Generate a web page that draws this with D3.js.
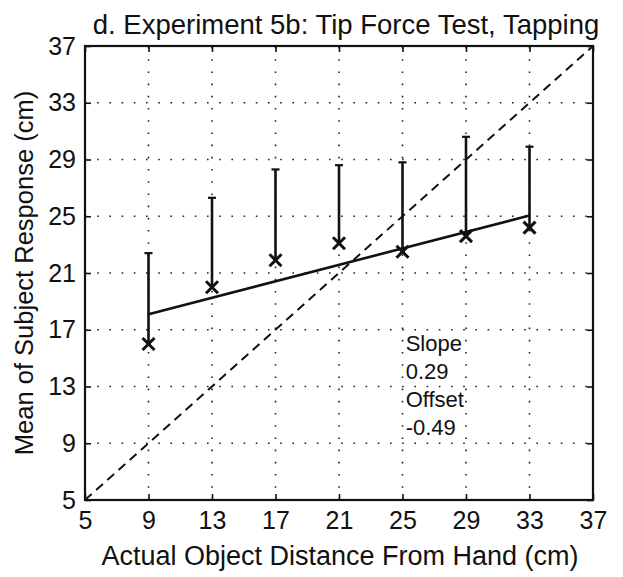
<!DOCTYPE html>
<html>
<head>
<meta charset="utf-8">
<script src="https://cdn.jsdelivr.net/npm/d3@7"></script>
<style>
html,body{margin:0;padding:0;background:#fff;}
svg{display:block;}
text{font-family:"Liberation Sans",Arial,Helvetica,sans-serif;fill:#111;}
</style>
</head>
<body>
<svg id="chart" width="623" height="577"></svg>
<script>
// ---- data ----
const distances = [9, 13, 17, 21, 25, 29, 33];
const meanResponse = [16.0, 20.0, 21.9, 23.1, 22.5, 23.6, 24.2];
const errorTop = [22.4, 26.3, 28.3, 28.6, 28.8, 30.6, 29.9];
const fitX = [9, 33];
const fitY = [18.1, 25.05];
const unityLine = [5, 37];
const tickValues = [5, 9, 13, 17, 21, 25, 29, 33, 37];
const gridValues = [9, 13, 17, 21, 25, 29, 33];
const annotationLines = ["Slope", "0.29", "Offset", "-0.49"];
const titleText = "d. Experiment 5b: Tip Force Test, Tapping";
const xLabel = "Actual Object Distance From Hand (cm)";
const yLabel = "Mean of Subject Response (cm)";

// ---- layout ----
const L = 85, R = 593, T = 46, B = 500;
const svg = d3.select("#chart");
const x = d3.scaleLinear().domain([5, 37]).range([L, R]);
const y = d3.scaleLinear().domain([5, 37]).range([B, T]);

// grid (dotted)
const grid = svg.append("g").attr("stroke", "#222").attr("stroke-width", 1.6)
  .attr("stroke-dasharray", "1.6,10.6");
grid.selectAll(".gx").data(gridValues).join("line")
  .attr("x1", d => x(d)).attr("x2", d => x(d)).attr("y1", B).attr("y2", T);
grid.selectAll(".gy").data(gridValues).join("line")
  .attr("y1", d => y(d)).attr("y2", d => y(d)).attr("x1", L).attr("x2", R);

// axes with inward ticks
const fmt = d3.format("d");
const axB = svg.append("g").attr("transform", `translate(0,${B})`)
  .call(d3.axisBottom(x).tickValues(tickValues).tickFormat(fmt).tickSizeInner(-6).tickSizeOuter(0).tickPadding(11));
const axL = svg.append("g").attr("transform", `translate(${L},0)`)
  .call(d3.axisLeft(y).tickValues(tickValues).tickFormat(fmt).tickSizeInner(-6).tickSizeOuter(0).tickPadding(9));
const axT = svg.append("g").attr("transform", `translate(0,${T})`)
  .call(d3.axisTop(x).tickValues(tickValues).tickFormat("").tickSizeInner(-6).tickSizeOuter(0));
const axR = svg.append("g").attr("transform", `translate(${R},0)`)
  .call(d3.axisRight(y).tickValues(tickValues).tickFormat("").tickSizeInner(-6).tickSizeOuter(0));
[axB, axL, axT, axR].forEach(a => {
  a.select(".domain").remove();
  a.selectAll(".tick line").attr("stroke", "#111").attr("stroke-width", 1.6);
  a.selectAll(".tick text").attr("font-size", 25).attr("fill", "#111")
    .style("font-family", '"Liberation Sans",Arial,sans-serif');
});
axB.selectAll(".tick text").attr("dy", "0.71em");

// box
svg.append("rect").attr("x", L).attr("y", T).attr("width", R - L).attr("height", B - T)
  .attr("fill", "none").attr("stroke", "#111").attr("stroke-width", 2.2);

// unity dashed line
svg.append("line")
  .attr("x1", x(unityLine[0])).attr("y1", y(unityLine[0]))
  .attr("x2", x(unityLine[1])).attr("y2", y(unityLine[1]))
  .attr("stroke", "#111").attr("stroke-width", 2).attr("stroke-dasharray", "9,6");

// fit line
svg.append("line")
  .attr("x1", x(fitX[0])).attr("y1", y(fitY[0]))
  .attr("x2", x(fitX[1])).attr("y2", y(fitY[1]))
  .attr("stroke", "#111").attr("stroke-width", 2.6);

// error bars
const eb = svg.append("g").attr("stroke", "#111");
eb.selectAll(".bar").data(distances).join("line")
  .attr("x1", d => x(d)).attr("x2", d => x(d))
  .attr("y1", (d, i) => y(meanResponse[i])).attr("y2", (d, i) => y(errorTop[i]))
  .attr("stroke-width", 2.6);
eb.selectAll(".cap").data(distances).join("line")
  .attr("x1", d => x(d) - 4).attr("x2", d => x(d) + 4)
  .attr("y1", (d, i) => y(errorTop[i])).attr("y2", (d, i) => y(errorTop[i]))
  .attr("stroke-width", 2.2);

// X markers
const s = 6;
const mk = svg.append("g").attr("stroke", "#111").attr("stroke-width", 3);
distances.forEach((d, i) => {
  const cx = x(d), cy = y(meanResponse[i]);
  mk.append("line").attr("x1", cx - s).attr("y1", cy - s).attr("x2", cx + s).attr("y2", cy + s);
  mk.append("line").attr("x1", cx - s).attr("y1", cy + s).attr("x2", cx + s).attr("y2", cy - s);
});

// annotation
svg.append("g").selectAll("text").data(annotationLines).join("text")
  .attr("x", x(25.2)).attr("y", (d, i) => y(15.5) + i * 28)
  .attr("font-size", 22).text(d => d);

// title and labels
svg.append("text").attr("x", 346).attr("y", 34).attr("text-anchor", "middle")
  .attr("font-size", 27.5).text(titleText);
svg.append("text").attr("x", 340).attr("y", 565).attr("text-anchor", "middle")
  .attr("font-size", 27).text(xLabel);
svg.append("text").attr("transform", `translate(33,${(T + B) / 2}) rotate(-90)`)
  .attr("text-anchor", "middle").attr("font-size", 25.5).text(yLabel);
</script>
</body>
</html>
